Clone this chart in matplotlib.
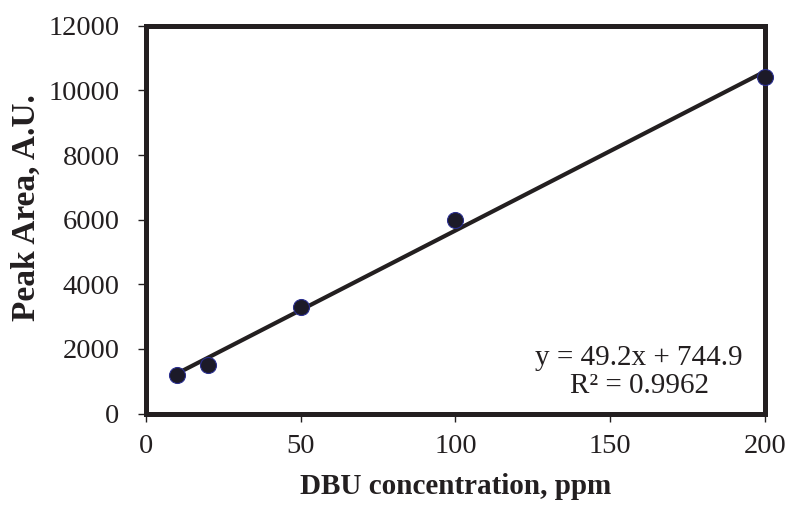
import matplotlib
matplotlib.use("Agg")
import matplotlib.pyplot as plt
import numpy as np

# Calibration data for DBU
concentration_ppm = [10, 20, 50, 100, 200]
peak_area = [1200, 1500, 3300, 6000, 10400]

# Linear fit reported on the chart
slope = 49.2
intercept = 744.9
r_squared = 0.9962

x_ticks = [0, 50, 100, 150, 200]
y_ticks = [0, 2000, 4000, 6000, 8000, 10000, 12000]

plt.rcParams["font.family"] = ["Liberation Serif", "DejaVu Serif"]
ink = "#231f20"

fig = plt.figure(figsize=(7.87, 5.05), dpi=100)
ax = fig.add_axes([0.1855, 0.181, 0.7865, 0.768])

x_fit = np.array([min(concentration_ppm), max(concentration_ppm)])
ax.plot(x_fit, slope * x_fit + intercept, color=ink, linewidth=3.0,
        solid_capstyle="butt", zorder=2)
ax.plot(concentration_ppm, peak_area, linestyle="none", marker="o",
        markersize=11.5, markerfacecolor="#1c1a28", markeredgecolor="#2b2f8f",
        markeredgewidth=0.8, zorder=3, clip_on=False)

ax.set_xlim(0, 200)
ax.set_ylim(0, 12000)
ax.set_xticks(x_ticks)
ax.set_yticks(y_ticks)
ax.tick_params(axis="both", direction="out", length=6, width=1.0,
               color=ink, labelsize=20.5, labelcolor=ink)
ax.tick_params(axis="y", pad=13)
ax.tick_params(axis="x", pad=9)

for side in ax.spines.values():
    side.set_linewidth(3.6)
    side.set_color(ink)
    side.set_capstyle("projecting")

ax.set_xlabel("DBU concentration, ppm", fontsize=21, fontweight="bold",
              color=ink, labelpad=10)
ax.set_ylabel("Peak Area, A.U.", fontsize=24, fontweight="bold", color=ink)
ax.yaxis.set_label_coords(-0.168, 0.53)

ax.text(0.797, 0.108, f"y = {slope}x + {intercept}\nR\u00b2 = {r_squared}",
        transform=ax.transAxes, ha="center", va="center", fontsize=21,
        color=ink, linespacing=1.12)

fig.savefig("out.png", dpi=100, facecolor="white")
